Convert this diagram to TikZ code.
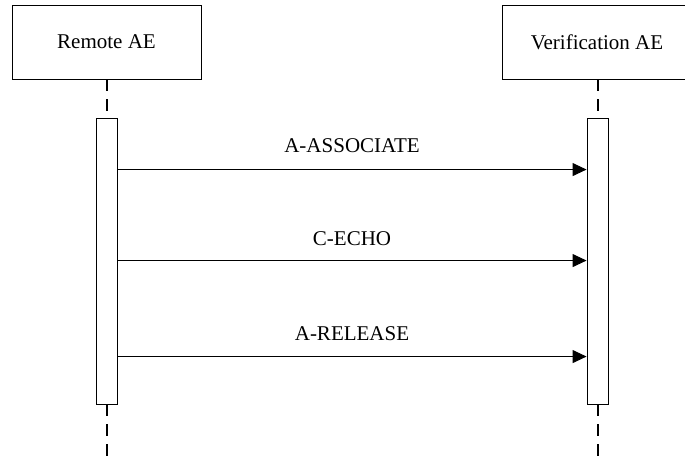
\documentclass[tikz,border=0pt]{standalone}
\usepackage{fontspec}
\setmainfont{Liberation Serif}
\usepackage{tikz}
\usetikzlibrary{arrows.meta, positioning}
\tikzset{
  actor/.style={draw, line width=0.9pt, minimum width=189pt, minimum height=74pt, inner sep=0pt, font=\fontsize{21}{25}\selectfont},
  activebar/.style={draw, line width=0.9pt, fill=white, minimum width=21pt, minimum height=286pt, inner sep=0pt},
  lifeline/.style={line width=2pt, dash pattern=on 12pt off 8pt},
  msg/.style={line width=1pt, -{Triangle[length=14pt, width=13pt]}},
  msglabel/.style={anchor=base, font=\fontsize{21}{25}\selectfont}
}

\begin{document}
\begin{tikzpicture}[x=1pt, y=-1pt]
                \useasboundingbox (0,0) rectangle (685,461);
                \node[actor] (remote) at (106.5,42) {Remote AE};
                \node[actor] (verif) at (597,42) {Verification AE};
                \node[activebar] (rbar) at (106.5,261) {};
                \node[activebar] (vbar) at (597.5,261) {};
                \coordinate (rend) at (106.5,461);
                \coordinate (vend) at (597.5,461);

                \draw[lifeline] (remote.south) -- (rbar.north);
                \draw[lifeline] (rbar.south) -- (rend);
                \draw[lifeline] (verif.south -| vbar.north) -- (vbar.north);
                \draw[lifeline] (vbar.south) -- (vend);

                \draw[msg] ([yshift=-52pt]rbar.north east) -- ([yshift=-52pt]vbar.north west) node[midway, msglabel, yshift=17pt] {A-ASSOCIATE};
                \draw[msg] ([yshift=-143pt]rbar.north east) -- ([yshift=-143pt]vbar.north west) node[midway, msglabel, yshift=15pt] {C-ECHO};
                \draw[msg] ([yshift=-239pt]rbar.north east) -- ([yshift=-239pt]vbar.north west) node[midway, msglabel, yshift=16pt] {A-RELEASE};
            \end{tikzpicture}
\end{document}
